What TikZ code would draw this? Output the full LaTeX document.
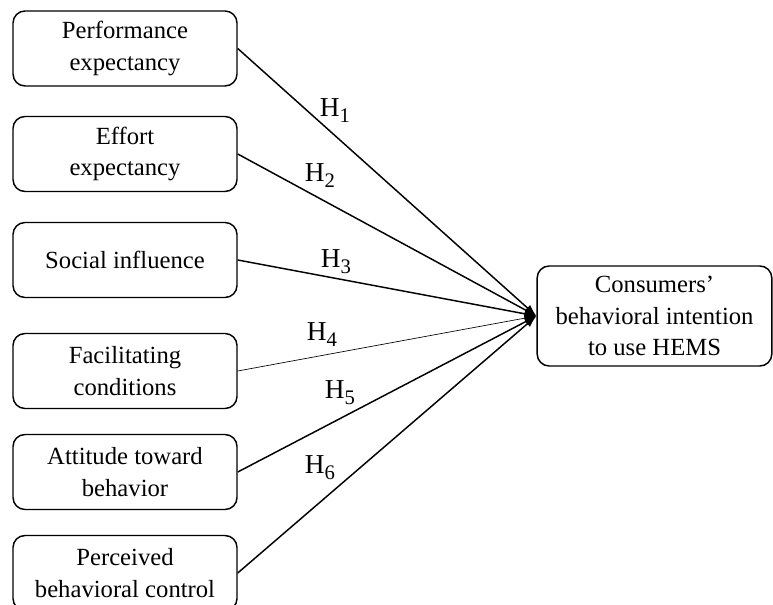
\documentclass[tikz,border=0pt]{standalone}
\usepackage{fontspec}
\setmainfont{Liberation Serif}
\usetikzlibrary{arrows.meta}
\newcommand{\hyp}[1]{H\raisebox{-4.5pt}{\fontsize{15.5}{18}\selectfont #1}}
\tikzset{
  box/.style={draw, line width=1.1pt, rounded corners=9pt, minimum width=168pt, minimum height=56.25pt, align=center, inner sep=0pt, font=\fontsize{18.5}{23.5}\selectfont},
  target/.style={box, minimum width=176pt, minimum height=75pt},
  link/.style={line width=1.1pt, -{Latex[length=9pt,width=6pt]}},
  thinlink/.style={line width=0.5pt, -{Latex[length=9pt,width=6pt]}},
  hlab/.style={font=\fontsize{20.5}{24}\selectfont, inner sep=0pt}
}
\begin{document}
\begin{tikzpicture}[x=0.75pt,y=-0.75pt]
\useasboundingbox (0,0) rectangle (773,605);
\node[box] (b1) at (125,48.5) {Performance\\expectancy};
\node[box] (b2) at (125,154) {Effort\\expectancy};
\node[box] (b3) at (125,260) {Social influence};
\node[box] (b4) at (125,371) {Facilitating\\conditions};
\node[box] (b5) at (125,472) {Attitude toward\\behavior};
\node[box] (b6) at (125,573) {Perceived\\behavioral control};
\node[target] (t) at (654.5,316) {Consumers’\\behavioral intention\\to use HEMS};
\draw[link] (b1.east) -- (t.west);
\draw[link] (b2.east) -- (t.west);
\draw[link] (b3.east) -- (t.west);
\draw[thinlink] (b4.east) -- (t.west);
\draw[link] (b5.east) -- (t.west);
\draw[link] (b6.east) -- (t.west);
\node[hlab] (h1) at (335,111) {\hyp{1}};
\node[hlab] (h2) at (320,176) {\hyp{2}};
\node[hlab] (h3) at (336,262) {\hyp{3}};
\node[hlab] (h4) at (322,335) {\hyp{4}};
\node[hlab] (h5) at (340,393) {\hyp{5}};
\node[hlab] (h6) at (320,468) {\hyp{6}};
\end{tikzpicture}
\end{document}
